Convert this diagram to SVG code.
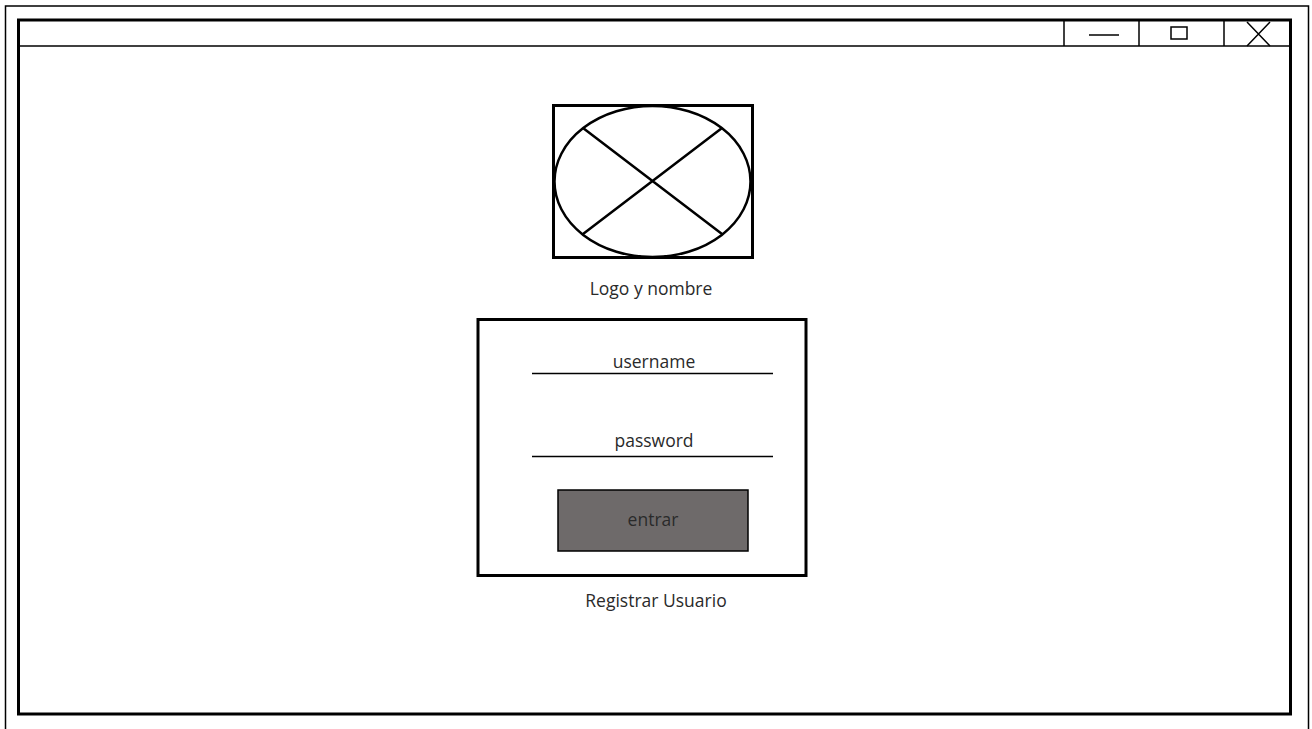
<svg xmlns="http://www.w3.org/2000/svg" width="1312" height="729" viewBox="0 0 1312 729">
<style>
.t{font-family:"Open Sans","Liberation Sans",sans-serif;font-size:17.5px;fill:#2a2a2a;text-anchor:middle}
.k{fill:none;stroke:#000}
</style>
<rect width="1312" height="729" fill="#fff"/>
<g id="frame">
<path class="k" stroke-width="1.5" d="M5.5,730 V6 H1308.5 V730"/>
<rect class="k" x="18.5" y="20" width="1272" height="694" stroke-width="3"/>
<line class="k" x1="18" y1="46" x2="1291" y2="46" stroke-width="1.5"/>
</g>
<g id="window-buttons">
<line class="k" x1="1064" y1="20" x2="1064" y2="46" stroke-width="1.5"/>
<line class="k" x1="1139" y1="20" x2="1139" y2="46" stroke-width="1.5"/>
<line class="k" x1="1224" y1="20" x2="1224" y2="46" stroke-width="1.5"/>
<line class="k" x1="1089" y1="35" x2="1119" y2="35" stroke-width="1.5"/>
<rect class="k" x="1171" y="27" width="16" height="12" stroke-width="1.5"/>
<path class="k" stroke-width="1.5" d="M1247,22 L1270,46 M1270,22 L1247,46"/>
</g>
<g id="logo">
<rect class="k" x="553.5" y="105.5" width="199" height="152" stroke-width="3"/>
<ellipse class="k" cx="652.5" cy="181.5" rx="98" ry="75.5" stroke-width="2.5"/>
<path class="k" stroke-width="2.5" d="M583,128 L722,234 M722,128 L583,234"/>
<text class="t" x="651" y="295">Logo y nombre</text>
</g>
<g id="login-form">
<rect class="k" x="478" y="319.5" width="328" height="256" stroke-width="3"/>
<text class="t" x="654" y="368">username</text>
<line class="k" x1="532" y1="373.5" x2="773" y2="373.5" stroke-width="1.5"/>
<text class="t" x="654" y="447">password</text>
<line class="k" x1="532" y1="456.5" x2="773" y2="456.5" stroke-width="1.5"/>
</g>
<g id="entrar-button">
<rect x="558" y="490" width="190" height="61" fill="#6e6a6a" stroke="#000" stroke-width="1.5"/>
<text class="t" x="653" y="526">entrar</text>
</g>
<g id="registrar">
<text class="t" x="656" y="607">Registrar Usuario</text>
</g>
<g id="connectors"></g>
</svg>
